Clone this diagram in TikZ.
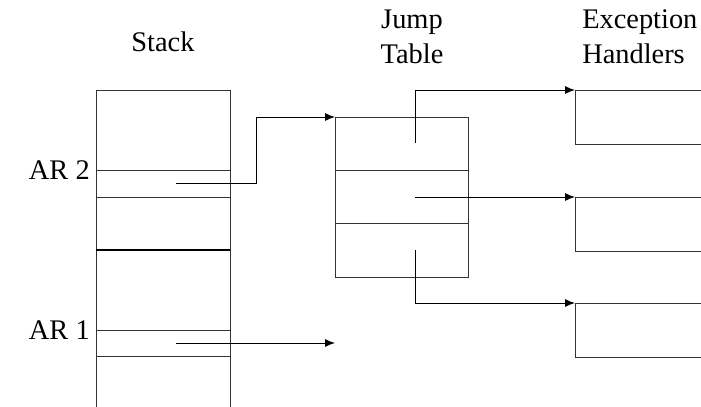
\documentclass[tikz,border=0pt]{standalone}
\usepackage{fontspec}
\setmainfont{Liberation Serif}
\usetikzlibrary{arrows.meta}
\begin{document}
\begin{tikzpicture}[x=0.75pt,y=-0.75pt,
  box/.style={line width=0.7pt,draw=black!80},
  link/.style={line width=0.7pt,draw=black,-{Latex[length=7.5pt,width=6pt]}},
  lbl/.style={font=\fontsize{21.3}{26.5}\selectfont,inner sep=0pt}]
\useasboundingbox (0,0) rectangle (701,407);
% Stack
\draw[box] (96,407) -- (96,90) -- (230,90) -- (230,407);
\foreach \y in {170,197,330,356} \draw[box] (96,\y) -- (230,\y);
\draw[line width=1.6pt] (96,250) -- (230,250);
% Jump table
\coordinate (jtnw) at (335,117);
\draw[box] (jtnw) rectangle (468,277);
\draw[box] (335,170) -- (468,170);
\draw[box] (335,223) -- (468,223);
% Handlers
\coordinate (h1) at (575,90);
\coordinate (h2) at (575,197);
\coordinate (h3) at (575,303);
\foreach \h in {h1,h2,h3} \draw[box] (\h) -- ++(126,0) (\h) -- ++(0,54) -- ++(126,0);
% labels
\node[lbl] (stack) at (163,42) {Stack};
\node[lbl,align=center] (jt) at (412,37) {Jump\\Table};
\node[lbl,align=left,anchor=west] (eh) at (582,37) {Exception\\Handlers};
\node[lbl,anchor=east] (ar2) at (90,170) {AR 2};
\node[lbl,anchor=east] (ar1) at (90,330) {AR 1};
% connectors
\coordinate (s2) at (176,183);
\coordinate (s1) at (176,343);
\coordinate (t1) at (335,343);
\coordinate (j1) at (415,143);
\coordinate (j2) at (415,197);
\coordinate (j3) at (415,250);
\draw[link] (s2) -- (256,183) |- (jtnw);
\draw[link] (s1) -- (t1);
\draw[link] (j1) |- (h1);
\draw[link] (j2) -- (h2);
\draw[link] (j3) |- (h3);
\end{tikzpicture}
\end{document}
